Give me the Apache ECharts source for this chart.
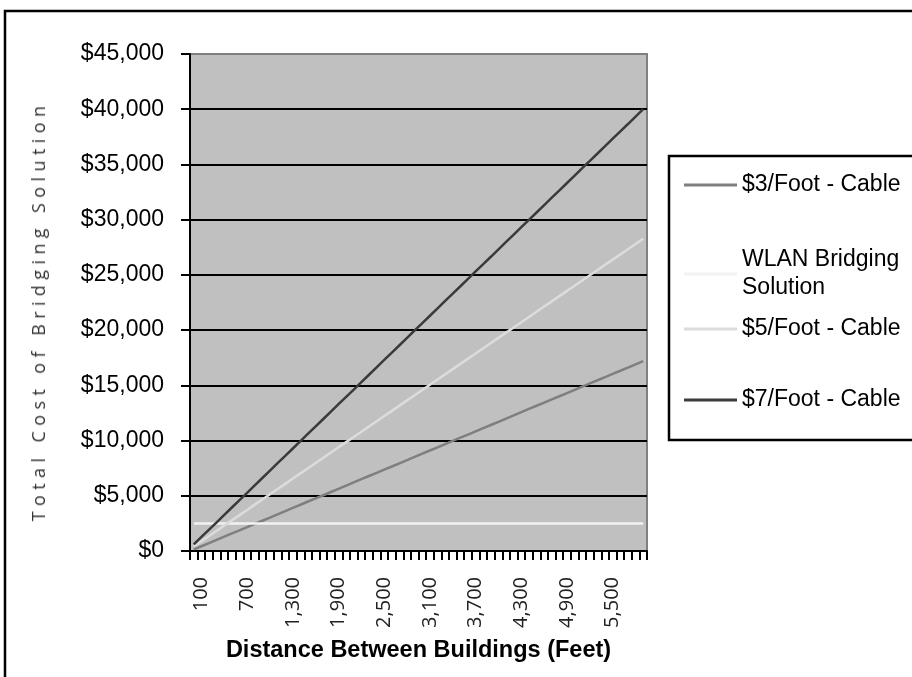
<!DOCTYPE html>
<html>
<head>
<meta charset="utf-8">
<script src="https://cdn.jsdelivr.net/npm/echarts@6/dist/echarts.min.js"></script>
<style>
  html, body { margin: 0; padding: 0; background: #ffffff; }
  #wrap { position: relative; width: 912px; height: 677px; overflow: hidden; }
  #chart { position: absolute; left: 0; top: 0; width: 912px; height: 677px; }
  #ytitle {
    position: absolute; left: 38px; top: 311px;
    transform: translate(-50%, -50%) rotate(-90deg);
    white-space: nowrap;
    font-family: "Open Sans", sans-serif; font-size: 18px;
    letter-spacing: 5.4px; color: #333333;
  }
</style>
</head>
<body>
<div id="wrap">
  <div id="chart"></div>
  <div id="ytitle">Total Cost of Bridging Solution</div>
</div>
<script>
// Distance between buildings, in feet (category axis)
const distances = [
  0, 100, 200, 300, 400, 500, 600, 700, 800, 900,
  1000, 1100, 1200, 1300, 1400, 1500, 1600, 1700, 1800, 1900,
  2000, 2100, 2200, 2300, 2400, 2500, 2600, 2700, 2800, 2900,
  3000, 3100, 3200, 3300, 3400, 3500, 3600, 3700, 3800, 3900,
  4000, 4100, 4200, 4300, 4400, 4500, 4600, 4700, 4800, 4900,
  5000, 5100, 5200, 5300, 5400, 5500, 5600, 5700, 5800, 5900
];

// Total cost per solution, in dollars
const cable3 = [
  140, 430, 720, 1010, 1300, 1590, 1870, 2160, 2450, 2740,
  3030, 3320, 3610, 3900, 4190, 4480, 4760, 5050, 5340, 5630,
  5920, 6210, 6500, 6790, 7080, 7370, 7650, 7940, 8230, 8520,
  8810, 9100, 9390, 9680, 9970, 10260, 10540, 10830, 11120, 11410,
  11700, 11990, 12280, 12570, 12860, 13150, 13430, 13720, 14010, 14300,
  14590, 14880, 15170, 15460, 15750, 16040, 16320, 16610, 16900, 17190
];
const wlan = [
  2500, 2500, 2500, 2500, 2500, 2500, 2500, 2500, 2500, 2500,
  2500, 2500, 2500, 2500, 2500, 2500, 2500, 2500, 2500, 2500,
  2500, 2500, 2500, 2500, 2500, 2500, 2500, 2500, 2500, 2500,
  2500, 2500, 2500, 2500, 2500, 2500, 2500, 2500, 2500, 2500,
  2500, 2500, 2500, 2500, 2500, 2500, 2500, 2500, 2500, 2500,
  2500, 2500, 2500, 2500, 2500, 2500, 2500, 2500, 2500, 2500
];
const cable5 = [
  420, 890, 1360, 1840, 2310, 2780, 3250, 3720, 4200, 4670,
  5140, 5610, 6080, 6560, 7030, 7500, 7970, 8440, 8920, 9390,
  9860, 10330, 10800, 11280, 11750, 12220, 12690, 13160, 13640, 14110,
  14580, 15050, 15520, 16000, 16470, 16940, 17410, 17880, 18360, 18830,
  19300, 19770, 20240, 20720, 21190, 21660, 22130, 22600, 23080, 23550,
  24020, 24490, 24960, 25440, 25910, 26380, 26850, 27320, 27800, 28270
];
const cable7 = [
  600, 1270, 1940, 2600, 3270, 3940, 4610, 5270, 5940, 6610,
  7280, 7950, 8610, 9280, 9950, 10620, 11280, 11950, 12620, 13290,
  13960, 14620, 15290, 15960, 16630, 17300, 17960, 18630, 19300, 19970,
  20630, 21300, 21970, 22640, 23310, 23970, 24640, 25310, 25980, 26640,
  27310, 27980, 28650, 29320, 29980, 30650, 31320, 31990, 32650, 33320,
  33990, 34660, 35330, 35990, 36660, 37330, 38000, 38660, 39330, 40000
];

const seriesNames = ['$3/Foot - Cable', 'WLAN Bridging\nSolution', '$5/Foot - Cable', '$7/Foot - Cable'];
const seriesColors = ['#7f7f7f', '#f2f2f2', '#dcdcdc', '#3a3a3a'];
const seriesData = [cable3, wlan, cable5, cable7];

const yMin = 0, yMax = 45000, yStep = 5000;

const fmt = v => Number(v).toLocaleString('en-US');

const chart = echarts.init(document.getElementById('chart'), null, { renderer: 'canvas' });

// one legend block per entry so each line sits where the box lays it out
const legendTops = [166, 241, 310, 381];
const legends = seriesNames.map((name, i) => ({
  data: [name],
  orient: 'vertical',
  left: 679,
  top: legendTops[i],
  icon: 'rect',
  itemWidth: 53,
  itemHeight: 3,
  selectedMode: false,
  textStyle: {
    fontFamily: 'Liberation Sans, Arial, sans-serif',
    fontSize: 23,
    lineHeight: 28,
    color: '#000000'
  }
}));

chart.setOption({
  animation: false,
  backgroundColor: '#ffffff',
  graphic: [
    {
      type: 'rect', z: -10,
      shape: { x: 5, y: 11, width: 912, height: 680 },
      style: { fill: 'none', stroke: '#000000', lineWidth: 2.5 }
    },
    {
      type: 'rect', z: 1,
      shape: { x: 669, y: 156, width: 260, height: 284 },
      style: { fill: '#ffffff', stroke: '#000000', lineWidth: 2.5 }
    }
  ],
  legend: legends,
  grid: {
    left: 190, right: 265, top: 54, bottom: 126,
    show: true,
    backgroundColor: '#c0c0c0',
    borderColor: '#808080',
    borderWidth: 2
  },
  xAxis: {
    type: 'category',
    data: distances,
    boundaryGap: true,
    name: 'Distance Between Buildings (Feet)',
    nameLocation: 'middle',
    nameGap: 88,
    nameTextStyle: {
      fontFamily: 'Liberation Sans, Arial, sans-serif',
      fontSize: 23.5,
      fontWeight: 'bold',
      color: '#000000'
    },
    axisLine: { lineStyle: { color: '#000000', width: 2 } },
    axisTick: { show: true, interval: 0, length: 9, lineStyle: { color: '#000000', width: 2 } },
    axisLabel: {
      interval: (index) => index % 6 === 1,
      rotate: 90,
      margin: 26,
      formatter: v => fmt(v),
      fontFamily: 'Open Sans, sans-serif',
      fontSize: 20,
      color: '#222222'
    },
    splitLine: { show: false }
  },
  yAxis: {
    type: 'value',
    min: yMin, max: yMax, interval: yStep,
    axisLine: { show: true, lineStyle: { color: '#000000', width: 2 } },
    axisTick: { show: true, length: 9, lineStyle: { color: '#000000', width: 2 } },
    axisLabel: {
      margin: 26,
      formatter: v => '$' + fmt(v),
      fontFamily: 'Liberation Sans, Arial, sans-serif',
      fontSize: 23,
      color: '#000000'
    },
    splitLine: {
      show: true,
      showMaxLine: false,
      lineStyle: { color: '#000000', width: 2 }
    }
  },
  series: seriesNames.map((name, i) => ({
    name: name,
    type: 'line',
    data: seriesData[i],
    symbol: 'none',
    smooth: false,
    z: 3 + i,
    color: seriesColors[i],
    lineStyle: { color: seriesColors[i], width: 2.5 },
    itemStyle: { color: seriesColors[i] }
  }))
});
</script>
</body>
</html>
